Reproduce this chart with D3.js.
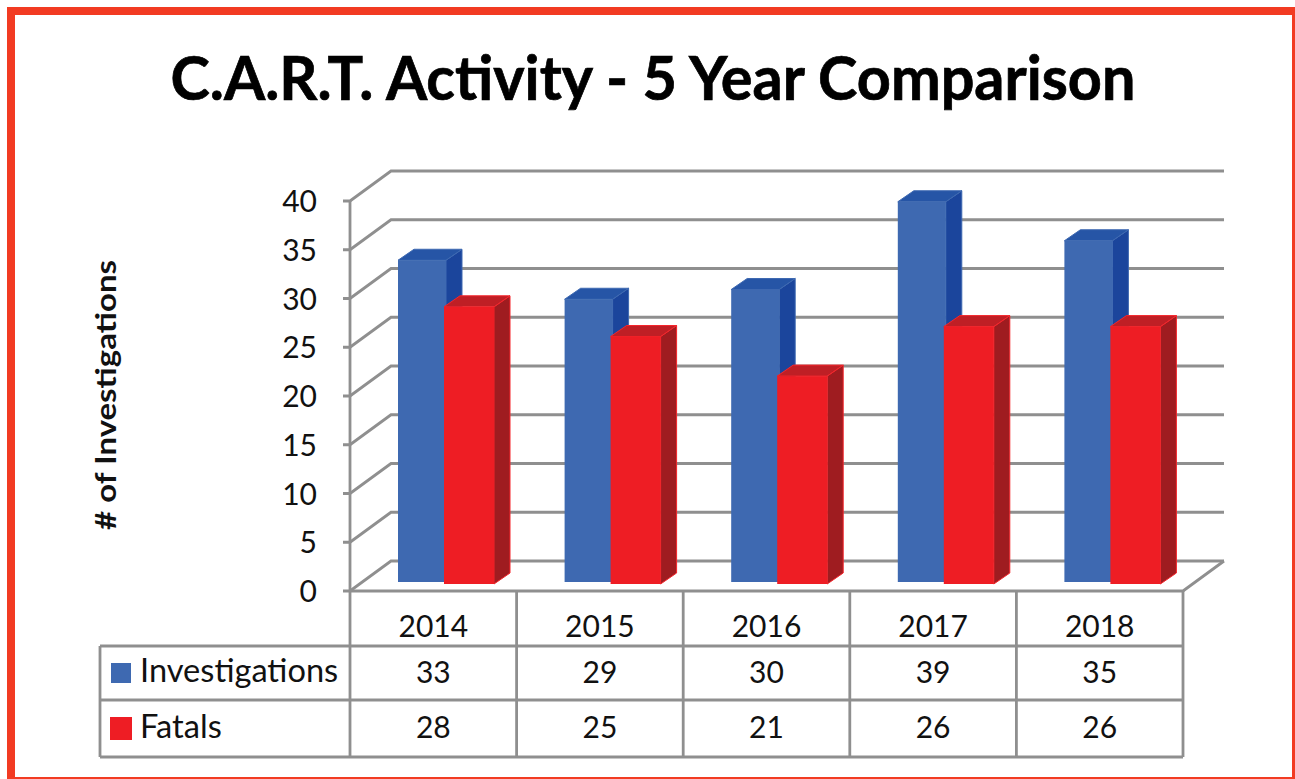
<!DOCTYPE html>
<html>
<head>
<meta charset="utf-8">
<script src="https://cdn.jsdelivr.net/npm/d3@7"></script>
<style>
  html, body { margin: 0; padding: 0; background: #fff; }
  svg { display: block; }
  text { font-family: Lato, sans-serif; fill: #111; }
</style>
</head>
<body>
<div id="chart"></div>
<script>
const width = 1295;
const height = 779;

const years = ["2014", "2015", "2016", "2017", "2018"];
const investigations = [33, 29, 30, 39, 35];
const fatals = [28, 25, 21, 26, 26];
const yTicks = [0, 5, 10, 15, 20, 25, 30, 35, 40];
const seriesNames = ["Investigations", "Fatals"];

const gridColor = "#8f8f8f";
const wallDx = 41, wallDy = -30;   // floor depth of the fake 3D box
const barDx = 16, barDy = -11;     // depth of each bar

const svg = d3.select("#chart")
  .append("svg")
  .attr("width", width)
  .attr("height", height)
  .attr("viewBox", `0 0 ${width} ${height}`);

// frame: right and bottom edges are cut by the picture
svg.append("rect").attr("x", 7).attr("y", 7).attr("width", 1288).attr("height", 772).attr("fill", "#f23b22");
svg.append("rect").attr("x", 15).attr("y", 15).attr("width", 1277).attr("height", 762).attr("fill", "#fff");

svg.append("text")
  .attr("x", 653).attr("y", 100)
  .attr("text-anchor", "middle")
  .attr("font-size", 61)
  .attr("font-weight", 700)
  .attr("textLength", 965)
  .attr("lengthAdjust", "spacingAndGlyphs")
  .style("fill", "#000")
  .style("stroke", "#000")
  .style("stroke-width", 0.7)
  .text("C.A.R.T. Activity - 5 Year Comparison");

svg.append("text")
  .attr("transform", "translate(116,395) rotate(-90)")
  .attr("text-anchor", "middle")
  .attr("font-size", 29)
  .attr("font-weight", 700)
  .attr("textLength", 270)
  .attr("lengthAdjust", "spacingAndGlyphs")
  .text("# of Investigations");

const x = d3.scaleBand().domain(years).range([350, 1183]);
const y = d3.scaleLinear().domain([0, 40]).range([591, 201]);
// bars sit a bit inside the box, so each series has its own baseline
const yBlue = d3.scaleLinear().domain([0, 40]).range([582, 192]);
const yRed = d3.scaleLinear().domain([0, 40]).range([584, 188]);

const grid = svg.append("g")
  .attr("fill", "none")
  .attr("stroke", gridColor)
  .attr("stroke-width", 2.8);

yTicks.forEach(t => {
  const p = d3.path();
  p.moveTo(343, y(t));
  p.lineTo(x.range()[0], y(t));
  p.lineTo(x.range()[0] + wallDx, y(t) + wallDy);
  p.lineTo(x.range()[1] + wallDx, y(t) + wallDy);
  grid.append("path").attr("d", p.toString());
});

// front edge of the floor
const floor = d3.path();
floor.moveTo(x.range()[0], y(0));
floor.lineTo(x.range()[1], y(0));
floor.lineTo(x.range()[1] + wallDx, y(0) + wallDy);
grid.append("path").attr("d", floor.toString());

function drawBar(g, left, w, top, base, colors) {
  const right = left + w;
  const side = d3.path();
  side.moveTo(right, top);
  side.lineTo(right + barDx, top + barDy);
  side.lineTo(right + barDx, base + barDy);
  side.lineTo(right, base);
  side.closePath();
  g.append("path").attr("d", side.toString()).attr("fill", colors.side).attr("stroke", colors.edge);

  const lid = d3.path();
  lid.moveTo(left, top);
  lid.lineTo(left + barDx, top + barDy);
  lid.lineTo(right + barDx, top + barDy);
  lid.lineTo(right, top);
  lid.closePath();
  g.append("path").attr("d", lid.toString()).attr("fill", colors.top).attr("stroke", colors.edge);

  g.append("rect")
    .attr("x", left).attr("y", top)
    .attr("width", w).attr("height", base - top)
    .attr("fill", colors.front);
}

const blueColors = { front: "#3e69b1", top: "#2655a6", side: "#1b459c", edge: "#3e69b1" };
const redColors = { front: "#ee1d24", top: "#bf1f25", side: "#9f1c20", edge: "#f5252b" };

const bars = svg.append("g");
years.forEach((yr, i) => {
  drawBar(bars, x(yr) + 48, 48, yBlue(investigations[i]), yBlue(0), blueColors);
  drawBar(bars, x(yr) + 94, 50, yRed(fatals[i]), yRed(0), redColors);
});

// data table under the plot
const rowLines = [646, 700, 757];
const table = svg.append("g")
  .attr("fill", "none")
  .attr("stroke", gridColor)
  .attr("stroke-width", 2.8);

table.append("line").attr("x1", 350).attr("x2", 350).attr("y1", y(40)).attr("y2", 757);
years.forEach(yr => {
  table.append("line")
    .attr("x1", x(yr) + x.bandwidth()).attr("x2", x(yr) + x.bandwidth())
    .attr("y1", 591).attr("y2", 757);
});
rowLines.forEach(r => {
  table.append("line").attr("x1", 100).attr("x2", 1183).attr("y1", r).attr("y2", r);
});
table.append("line").attr("x1", 100).attr("x2", 100).attr("y1", 646).attr("y2", 757);

const fontSize = 30;
svg.append("g").selectAll("text")
  .data(yTicks)
  .join("text")
  .attr("x", 317)
  .attr("y", d => y(d) + 11)
  .attr("text-anchor", "end")
  .attr("font-size", fontSize)
  .text(d => d);

svg.append("g").selectAll("text")
  .data(years)
  .join("text")
  .attr("x", d => x(d) + x.bandwidth() / 2)
  .attr("y", 637)
  .attr("text-anchor", "middle")
  .attr("font-size", fontSize)
  .text(d => d);

[[investigations, 683], [fatals, 738]].forEach(([vals, base]) => {
  svg.append("g").selectAll("text")
    .data(vals)
    .join("text")
    .attr("x", (d, i) => x(years[i]) + x.bandwidth() / 2)
    .attr("y", base)
    .attr("text-anchor", "middle")
    .attr("font-size", fontSize)
    .text(d => d);
});

// legend keys sit in the row headers
svg.append("rect").attr("x", 111).attr("y", 663).attr("width", 20).attr("height", 20).attr("fill", blueColors.front);
svg.append("rect").attr("x", 110).attr("y", 717).attr("width", 22).attr("height", 23).attr("fill", redColors.front);
svg.append("text").attr("x", 140).attr("y", 682).attr("font-size", 32.6).text(seriesNames[0]);
svg.append("text").attr("x", 140).attr("y", 738).attr("font-size", 32.6).text(seriesNames[1]);
</script>
</body>
</html>
